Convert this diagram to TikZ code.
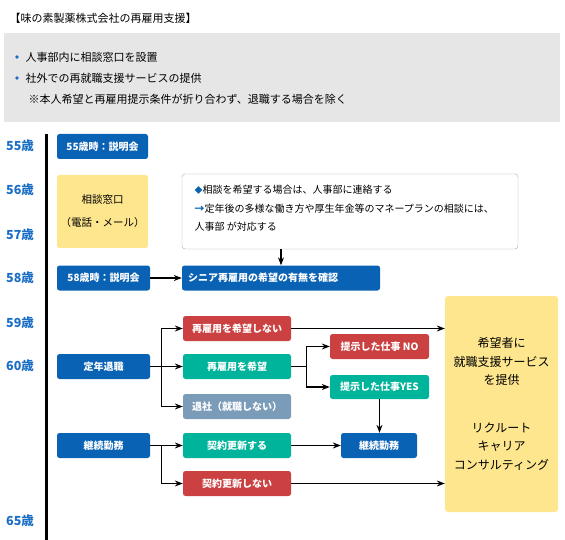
\documentclass[tikz,border=0pt]{standalone}
\usepackage{fontspec}
\setmainfont{Noto Sans CJK JP}
\usepackage{tikz}
\usetikzlibrary{arrows.meta}
\definecolor{agesblue}{HTML}{1A6EC4}
\definecolor{boxblue}{HTML}{0A62B4}
\definecolor{boxteal}{HTML}{00B49B}
\definecolor{boxred}{HTML}{CB4040}
\definecolor{boxgray}{HTML}{7B9CB9}
\definecolor{softyellow}{HTML}{FDE68E}
\definecolor{panelgray}{HTML}{E6E6E6}
\definecolor{notegray}{HTML}{AAAAAA}
\tikzset{>={Stealth[scale=1]}}
\tikzset{
  box/.style={rounded corners=2.5pt, text=white, inner sep=0pt, minimum height=25pt,
    font=\bfseries\fontsize{10}{12}\selectfont},
  age/.style={text=agesblue, font=\bfseries\fontsize{12.5}{14}\selectfont},
  line/.style={line width=1.1pt}
}

\begin{document}
\begin{tikzpicture}[x=1pt, y=-1pt]
\useasboundingbox (0,0) rectangle (565,540);
\node[anchor=west, font=\fontsize{11}{13}\selectfont] (title) at (6,18) {【味の素製薬株式会社の再雇用支援】};
\fill[panelgray] (4,33) rectangle (560,122);
\fill[agesblue] (17,57) circle (1.8);
\fill[agesblue] (17,78) circle (1.8);
\node[anchor=west, font=\fontsize{11}{13}\selectfont] (point1) at (22,57) {人事部内に相談窓口を設置};
\node[anchor=west, font=\fontsize{11}{13}\selectfont] (point2) at (22,78) {社外での再就職支援サービスの提供};
\node[anchor=west, font=\fontsize{11}{13}\selectfont] (point3) at (25,99) {※本人希望と再雇用提示条件が折り合わず、退職する場合を除く};

\foreach \a/\y in {55/146,56/190,57/235,58/278,59/323,60/366,65/521}
  \node[age] (age\a) at (20,\y) {\a 歳};
\draw[line width=3pt] (46,134) -- (46,540);

\node[box, fill=boxblue, minimum width=91pt] (talk55) at (102.5,146.5) {55歳時：説明会};
\node[box, fill=softyellow, text=black, minimum width=91pt, minimum height=73pt, align=center,
  font=\fontsize{10.5}{13}\selectfont] (desk) at (102.5,211.5) {相談窓口\\[10pt]（電話・メール）};
\node[draw=notegray, fill=white, rounded corners=3pt, minimum width=336pt, minimum height=75pt] (note) at (350,211.5) {};
\node[anchor=west, font=\fontsize{10}{12}\selectfont] (note1) at (191,190) {{\color{boxblue}\fontsize{8}{8}\selectfont◆}相談を希望する場合は、人事部に連絡する};
\node[anchor=west, font=\fontsize{10}{12}\selectfont] (note2) at (191,209) {{\color{boxblue}\bfseries →}定年後の多様な働き方や厚生年金等のマネープランの相談には、};
\node[anchor=west, font=\fontsize{10}{12}\selectfont] (note3) at (191,227) {人事部 が対応する};

\node[box, fill=boxblue, minimum width=93pt] (talk58) at (103.5,278) {58歳時：説明会};
\node[box, fill=boxblue, minimum width=198pt, text width=186pt, align=left] (senior) at (281,278) {シニア再雇用の希望の有無を確認};
\draw[line, ->] (talk58) -- (senior);
\draw[line, ->] (senior.north |- note.south) -- (senior.north);

\node[box, fill=boxblue, minimum width=93pt] (retire) at (103.5,366.5) {定年退職};
\node[box, fill=boxred, minimum width=108pt] (nowish) at (237,328.5) {再雇用を希望しない};
\node[box, fill=boxteal, minimum width=108pt] (wish) at (237,366.5) {再雇用を希望};
\node[box, fill=boxgray, minimum width=108pt] (leave) at (237,406.5) {退社（就職しない）};
\node[box, fill=boxred, minimum width=99pt] (offerno) at (379.5,346.5) {提示した仕事 NO};
\node[box, fill=boxteal, minimum width=99pt, minimum height=24pt] (offeryes) at (379.5,387) {提示した仕事YES};

\node[box, fill=boxblue, minimum width=93pt] (keep) at (103.5,445.5) {継続勤務};
\node[box, fill=boxteal, minimum width=108pt] (renew) at (237,445.5) {契約更新する};
\node[box, fill=boxred, minimum width=108pt] (norenew) at (237,483.5) {契約更新しない};
\node[box, fill=boxblue, minimum width=76pt] (keepon) at (379,445.5) {継続勤務};

\node[fill=softyellow, rounded corners=3pt, minimum width=113pt, minimum height=216pt, align=center,
  font=\fontsize{12}{18.3}\selectfont] (support) at (501.5,404) {希望者に\\就職支援サービス\\を提供\\[29.7pt]リクルート\\キャリア\\コンサルティング};

\draw[line, ->] (retire.east) -- ++(11,0) |- (nowish.west);
\draw[line, ->] (retire.east) -- (wish.west);
\draw[line, ->] (retire.east) -- ++(11,0) |- (leave.west);
\draw[line, ->] (wish.east) -- ++(15,0) |- (offerno.west);
\draw[line, ->] (wish.east) -- ++(15,0) |- (offeryes.west);
\draw[line, ->] (offeryes.south) -- (offeryes.south |- keepon.north);
\draw[line, ->] (nowish.east) -- (nowish.east -| support.west);
\draw[line, ->] (keep.east) -- (renew.west);
\draw[line, ->] (keep.east) -- ++(11,0) |- (norenew.west);
\draw[line, ->] (renew) -- (keepon);
\draw[line, ->] (norenew.east) -- (norenew.east -| support.west);
\end{tikzpicture}
\end{document}
